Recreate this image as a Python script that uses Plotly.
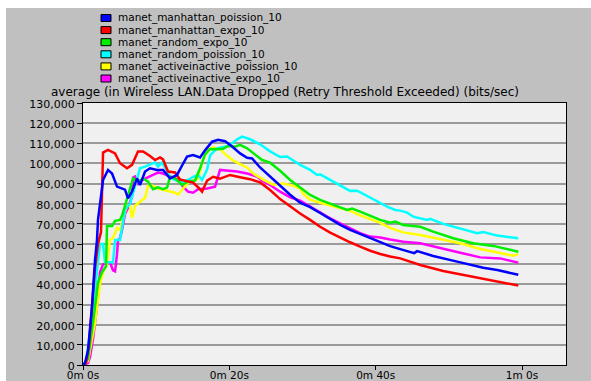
import plotly.graph_objects as go

# ---- series data: time (s) and average dropped traffic (bits/sec) ----
series_names = [
    "manet_manhattan_poission_10",
    "manet_manhattan_expo_10",
    "manet_random_expo_10",
    "manet_random_poission_10",
    "manet_activeinactive_poission_10",
    "manet_activeinactive_expo_10",
]
series_colors = ["#0000ff", "#ff0000", "#00ee00", "#00ffff", "#ffff00", "#ff00ff"]

t_manhattan_poission = [0, 0.27, 0.68, 1.23, 1.64, 1.91, 2.05, 2.74, 3.42, 3.97, 4.65, 5.33, 5.74, 6.15, 6.70, 7.38,
                        7.79, 8.48, 9.16, 10.12, 10.94, 11.90, 12.85, 13.54, 14.22, 15.04, 16.00, 16.68, 17.64, 18.46,
                        19.42, 20.38, 21.47, 22.43, 23.11, 24.20, 25.57, 26.94, 28.31, 29.67, 31.04, 32.41, 33.78,
                        35.15, 36.51, 37.88, 39.25, 40.62, 41.98, 43.35, 44.72, 45.26, 45.67, 46.09, 47.86, 51.14,
                        54.70, 56.62, 59.49]
v_manhattan_poission = [0, 1000, 7000, 29000, 52000, 62000, 72000, 91800, 96800, 95000, 88500, 87500, 87000, 82700,
                        86000, 92600, 89300, 96000, 97600, 96800, 96800, 92600, 94300, 99000, 103400, 104200, 103000,
                        106500, 110800, 111700, 111000, 108400, 105000, 102800, 102500, 98000, 93400, 88800, 84500,
                        80500, 78300, 75400, 72400, 69500, 67000, 65000, 62700, 60700, 59000, 57500, 56200, 55500,
                        56500, 56000, 54100, 51300, 48300, 47100, 44800]

t_manhattan_expo = [0, 0.41, 0.82, 1.23, 1.64, 2.05, 2.46, 2.74, 3.42, 4.38, 5.06, 6.02, 6.70, 7.52, 8.21, 9.16,
                    9.85, 10.53, 10.94, 11.62, 12.58, 13.26, 14.22, 15.04, 15.73, 16.27, 16.96, 17.78, 18.73, 20.10,
                    21.47, 22.84, 24.20, 25.57, 26.94, 28.31, 29.67, 31.04, 32.41, 33.78, 35.15, 36.51, 37.88,
                    39.25, 40.62, 41.98, 43.35, 46.09, 49.23, 52.51, 56.07, 59.49]
v_manhattan_expo = [0, 1000, 10000, 28000, 48000, 60000, 66000, 105400, 106700, 105000, 100100, 97600, 99300,
                    105900, 105900, 103700, 101700, 103000, 102000, 96000, 95500, 92000, 91000, 90500, 88200, 86000,
                    91500, 93400, 92400, 94300, 93200, 92200, 90600, 86800, 82300, 78600, 75200, 72000, 68600, 65700,
                    63200, 60900, 58700, 56700, 55100, 53800, 52900, 49600, 46600, 44200, 41700, 39400]

t_random_expo = [0, 0.68, 1.37, 2.05, 2.60, 3.15, 3.28, 3.97, 4.38, 5.06, 5.33, 5.74, 6.43, 6.84, 7.52, 8.21, 8.89,
                 9.57, 10.26, 10.94, 11.49, 11.90, 12.58, 13.54, 14.36, 15.32, 16.00, 16.68, 17.37, 18.32, 19.15,
                 19.83, 20.79, 21.47, 22.43, 23.25, 24.48, 25.57, 26.94, 28.31, 29.67, 31.04, 32.41, 33.78, 35.15,
                 36.10, 36.79, 37.88, 39.25, 40.62, 41.98, 42.67, 43.76, 46.09, 47.86, 50.60, 53.33, 56.07, 59.49]
v_random_expo = [0, 3000, 21000, 41000, 46000, 49000, 69000, 69000, 71500, 72000, 74000, 79000, 87000, 92600, 91000,
                 92600, 91000, 87200, 88200, 87200, 88000, 93400, 92600, 89300, 91000, 91500, 97600, 104500, 107200,
                 107000, 107300, 108700, 108300, 109200, 107500, 105000, 101700, 100400, 96400, 91800, 88000, 84400,
                 81900, 80200, 78200, 76900, 77600, 76100, 73900, 72000, 70600, 71200, 69500, 68600, 66200, 62900,
                 60400, 59100, 56200]

t_random_poission = [0, 0.41, 0.96, 1.64, 2.05, 2.32, 2.74, 3.01, 4.10, 4.38, 5.06, 5.47, 5.74, 6.43, 7.11, 7.79,
                     8.48, 9.16, 9.85, 10.26, 10.80, 11.21, 11.90, 12.58, 13.68, 14.36, 15.04, 15.73, 16.27, 16.96,
                     17.37, 18.32, 19.69, 20.38, 21.06, 21.74, 22.84, 24.20, 25.57, 26.94, 27.90, 28.31, 29.67,
                     31.04, 32.00, 32.41, 33.78, 35.15, 36.51, 37.47, 38.84, 40.20, 41.57, 42.67, 43.35, 44.31,
                     45.13, 47.04, 47.45, 49.23, 51.55, 53.88, 54.70, 56.62, 59.49]
v_random_poission = [0, 2000, 16000, 37000, 52000, 60000, 60000, 51000, 51000, 62000, 62000, 70000, 77000, 80000,
                     89000, 97600, 98400, 99300, 100500, 98500, 100500, 98000, 93400, 91800, 91000, 91800, 93400,
                     94300, 91800, 97000, 104000, 107500, 108500, 110000, 112000, 113300, 112000, 109500, 106000,
                     103200, 103500, 102500, 99300, 96800, 94300, 94600, 91800, 89300, 86400, 86500, 83900, 81000,
                     78600, 76900, 76600, 75600, 73600, 72000, 72500, 70000, 67800, 65400, 66000, 64200, 62900]

t_activeinactive_poission = [0, 0.68, 1.64, 2.32, 2.74, 3.28, 3.69, 4.10, 4.65, 5.06, 5.47, 6.02, 6.43, 6.70, 7.11,
                             7.79, 8.48, 8.89, 9.57, 10.26, 10.94, 11.90, 12.58, 12.99, 13.68, 14.36, 15.04, 15.73,
                             16.41, 17.09, 17.78, 18.73, 19.69, 20.51, 21.47, 22.43, 23.25, 24.62, 25.98, 27.35,
                             28.72, 29.67, 30.09, 31.04, 32.41, 33.78, 35.15, 36.51, 37.88, 39.25, 40.62, 41.98,
                             43.76, 46.09, 48.82, 51.55, 54.29, 57.03, 58.80, 59.49]
v_activeinactive_poission = [0, 2000, 21000, 40000, 46000, 50000, 62000, 63000, 68000, 67000, 73000, 79000, 79000,
                             73000, 79000, 81000, 83000, 89000, 89000, 87500, 87000, 86000, 85500, 84500, 87500,
                             90500, 91500, 92500, 102000, 106800, 108000, 107000, 103800, 101500, 99700, 98000,
                             95000, 92000, 89500, 90000, 89000, 87500, 85000, 82000, 80500, 79200, 77800, 76500,
                             74200, 72200, 70500, 68000, 65800, 64500, 62400, 60400, 57600, 55400, 54200, 55000]

t_activeinactive_expo = [0, 0.68, 0.96, 1.37, 1.91, 2.32, 2.74, 3.69, 4.10, 4.38, 4.65, 4.79, 5.06, 5.33, 5.74, 6.15,
                         6.70, 6.84, 7.11, 7.52, 8.21, 8.89, 9.57, 10.26, 10.94, 11.62, 12.31, 12.99, 13.68, 14.36,
                         15.04, 15.73, 16.96, 18.05, 18.73, 19.69, 21.06, 22.43, 23.79, 24.48, 25.57, 26.94, 28.31,
                         29.67, 31.04, 32.41, 33.78, 35.15, 36.51, 37.88, 39.25, 40.62, 41.98, 43.76, 46.09, 48.82,
                         51.55, 54.29, 57.03, 59.49]
v_activeinactive_expo = [0, 1000, 4000, 13000, 29000, 46000, 50000, 51000, 47000, 46500, 55000, 62000, 63000, 67000,
                         75000, 78000, 83500, 93000, 93500, 90000, 92000, 93000, 94300, 95500, 95000, 94000, 93000,
                         92000, 88500, 86000, 85500, 87200, 87600, 88500, 96800, 96500, 96000, 95000, 93500, 91500,
                         89300, 86000, 83200, 81600, 78600, 75600, 72800, 70300, 67800, 65400, 63700, 63300, 62300,
                         61200, 60400, 57900, 55700, 53400, 52900, 50800]

series_t = [t_manhattan_poission, t_manhattan_expo, t_random_expo,
            t_random_poission, t_activeinactive_poission, t_activeinactive_expo]
series_v = [v_manhattan_poission, v_manhattan_expo, v_random_expo,
            v_random_poission, v_activeinactive_poission, v_activeinactive_expo]

x_tick_vals = [0, 20, 40, 60]
x_tick_text = ["0m 0s", "0m 20s", "0m 40s", "1m 0s"]
chart_title = "average (in Wireless LAN.Data Dropped (Retry Threshold Exceeded) (bits/sec)"

# ---- page geometry (pixels) ----
W, H = 591, 381
ML, MR, MT, MB = 83, 25, 103, 16
PW, PH = W - ML - MR, H - MT - MB
FONT = "DejaVu Sans"


def px(x):
    return (x - ML) / PW


def py(y):
    return (H - MB - y) / PH


fig = go.Figure()

# first series drawn last so it sits on top
for name, color, t, v in reversed(list(zip(series_names, series_colors, series_t, series_v))):
    fig.add_trace(go.Scatter(x=t, y=v, mode="lines", name=name,
                             line=dict(color=color, width=2.5), showlegend=False,
                             hoverinfo="skip"))

shapes = [
    # white strips along the top and left edges of the panel
    dict(type="rect", xref="paper", yref="paper", x0=px(0), x1=px(W), y0=py(8), y1=py(0),
         fillcolor="white", line=dict(width=0), layer="below"),
    dict(type="rect", xref="paper", yref="paper", x0=px(0), x1=px(6), y0=py(H), y1=py(0),
         fillcolor="white", line=dict(width=0), layer="below"),
]
annotations = []

# legend: coloured boxes with labels
leg_y0, leg_dy = 18, 12.1
for i, (name, color) in enumerate(zip(series_names, series_colors)):
    cy = leg_y0 + i * leg_dy
    shapes.append(dict(type="rect", xref="paper", yref="paper",
                       x0=px(101), x1=px(111), y0=py(cy + 3.5), y1=py(cy - 3.5),
                       fillcolor=color, line=dict(color="black", width=1)))
    annotations.append(dict(xref="paper", yref="paper", x=px(116), y=py(cy),
                            xanchor="left", yanchor="middle", showarrow=False,
                            text=name, font=dict(family=FONT, size=10.5, color="black")))

annotations.append(dict(xref="paper", yref="paper", x=px(49), y=py(91.5),
                        xanchor="left", yanchor="middle", showarrow=False,
                        text=chart_title, font=dict(family=FONT, size=12, color="black")))

fig.update_layout(
    width=W, height=H,
    margin=dict(l=ML, r=MR, t=MT, b=MB, pad=0),
    paper_bgcolor="#c0c0c0",
    plot_bgcolor="#f0f0f0",
    font=dict(family=FONT, size=12, color="black"),
    shapes=shapes,
    annotations=annotations,
    showlegend=False,
)

fig.update_xaxes(range=[0, PW / 7.317], tickvals=x_tick_vals, ticktext=x_tick_text,
                 ticks="outside", ticklen=4, tickcolor="black", showline=True,
                 linecolor="black", linewidth=1, mirror=True, showgrid=False,
                 zeroline=False, automargin=False, ticklabelstandoff=-4,
                 tickfont=dict(family=FONT, size=10.5))
fig.update_yaxes(range=[0, 130000], dtick=10000, tickformat=",d",
                 ticks="outside", ticklen=5, tickcolor="black", showline=True,
                 linecolor="black", linewidth=1, mirror=True, showgrid=True,
                 gridcolor="#9a9a9a", gridwidth=1.5, zeroline=False, automargin=False,
                 ticklabelshift=1, tickfont=dict(family=FONT, size=11))

fig.write_html("out.html")
